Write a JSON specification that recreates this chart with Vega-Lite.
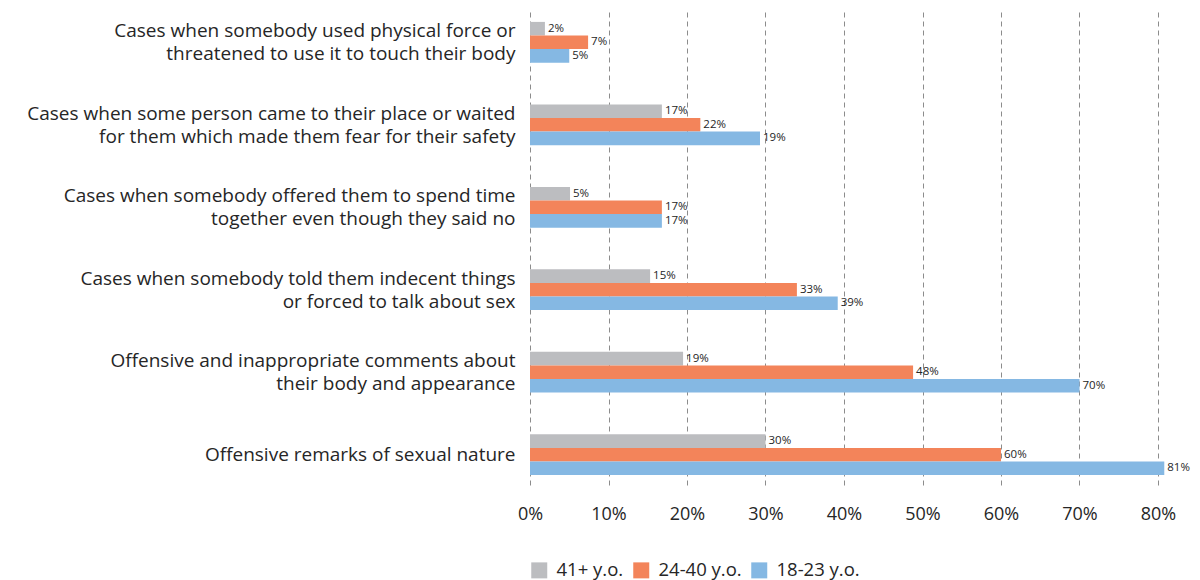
{
  "$schema": "https://vega.github.io/schema/vega-lite/v6.json",
  "autosize": {"type": "none"},
  "width": 628,
  "height": 473,
  "padding": {"left": 530, "top": 12, "right": 42, "bottom": 95},
  "background": "white",
  "config": {
    "view": {"stroke": null},
    "font": "Open Sans",
    "axis": {"labelFont": "Open Sans", "labelColor": "#262626"}
  },
  "data": {
    "values": [
      {"cat": "Cases when somebody used physical force or|threatened to use it to touch their body", "group": "41+ y.o.", "value": 0.019, "label": "2%"},
      {"cat": "Cases when somebody used physical force or|threatened to use it to touch their body", "group": "24-40 y.o.", "value": 0.074, "label": "7%"},
      {"cat": "Cases when somebody used physical force or|threatened to use it to touch their body", "group": "18-23 y.o.", "value": 0.05, "label": "5%"},
      {"cat": "Cases when some person came to their place or waited|for them which made them fear for their safety", "group": "41+ y.o.", "value": 0.168, "label": "17%"},
      {"cat": "Cases when some person came to their place or waited|for them which made them fear for their safety", "group": "24-40 y.o.", "value": 0.217, "label": "22%"},
      {"cat": "Cases when some person came to their place or waited|for them which made them fear for their safety", "group": "18-23 y.o.", "value": 0.293, "label": "19%"},
      {"cat": "Cases when somebody offered them to spend time|together even though they said no", "group": "41+ y.o.", "value": 0.051, "label": "5%"},
      {"cat": "Cases when somebody offered them to spend time|together even though they said no", "group": "24-40 y.o.", "value": 0.168, "label": "17%"},
      {"cat": "Cases when somebody offered them to spend time|together even though they said no", "group": "18-23 y.o.", "value": 0.168, "label": "17%"},
      {"cat": "Cases when somebody told them indecent things|or forced to talk about sex", "group": "41+ y.o.", "value": 0.153, "label": "15%"},
      {"cat": "Cases when somebody told them indecent things|or forced to talk about sex", "group": "24-40 y.o.", "value": 0.34, "label": "33%"},
      {"cat": "Cases when somebody told them indecent things|or forced to talk about sex", "group": "18-23 y.o.", "value": 0.392, "label": "39%"},
      {"cat": "Offensive and inappropriate comments about|their body and appearance", "group": "41+ y.o.", "value": 0.195, "label": "19%"},
      {"cat": "Offensive and inappropriate comments about|their body and appearance", "group": "24-40 y.o.", "value": 0.488, "label": "48%"},
      {"cat": "Offensive and inappropriate comments about|their body and appearance", "group": "18-23 y.o.", "value": 0.70, "label": "70%"},
      {"cat": "Offensive remarks of sexual nature", "group": "41+ y.o.", "value": 0.30, "label": "30%"},
      {"cat": "Offensive remarks of sexual nature", "group": "24-40 y.o.", "value": 0.60, "label": "60%"},
      {"cat": "Offensive remarks of sexual nature", "group": "18-23 y.o.", "value": 0.808, "label": "81%"}
    ]
  },
  "encoding": {
    "y": {
      "field": "cat",
      "type": "nominal",
      "sort": null,
      "title": null,
      "scale": {"paddingInner": 0.506, "paddingOuter": 0.12},
      "axis": {
        "domain": false,
        "ticks": false,
        "labelExpr": "split(datum.label, '|')",
        "labelFontSize": 19,
        "labelLineHeight": 23,
        "labelPadding": 15,
        "labelLimit": 600,
        "labelOffset": {"condition": {"test": "indexof(datum.value, '|') >= 0", "value": -11}, "value": 0}
      }
    },
    "yOffset": {
      "field": "group",
      "type": "nominal",
      "sort": ["41+ y.o.", "24-40 y.o.", "18-23 y.o."],
      "scale": {"paddingInner": 0, "paddingOuter": 0}
    },
    "x": {
      "field": "value",
      "type": "quantitative",
      "title": null,
      "scale": {"domain": [0, 0.8], "nice": false},
      "axis": {
        "format": ".0%",
        "values": [0, 0.1, 0.2, 0.3, 0.4, 0.5, 0.6, 0.7, 0.8],
        "domain": false,
        "ticks": false,
        "grid": true,
        "gridDash": [5, 4],
        "gridColor": "#8c8c8c",
        "gridWidth": 1,
        "labelFontSize": 18,
        "labelPadding": 20,
        "labelFlush": false
      }
    }
  },
  "layer": [
    {
      "mark": {"type": "bar", "cornerRadius": 0},
      "encoding": {
        "color": {
          "field": "group",
          "type": "nominal",
          "sort": ["41+ y.o.", "24-40 y.o.", "18-23 y.o."],
          "scale": {"domain": ["41+ y.o.", "24-40 y.o.", "18-23 y.o."], "range": ["#BCBDC0", "#F3845A", "#85B8E3"]},
          "legend": {
            "title": null,
            "orient": "none",
            "legendX": 0,
            "legendY": 549,
            "direction": "horizontal",
            "symbolType": "square",
            "symbolSize": 256,
            "symbolStrokeWidth": 0,
            "labelFontSize": 18.5,
            "labelFont": "Open Sans",
            "labelColor": "#262626",
            "labelOffset": 8,
            "columnPadding": 8
          }
        }
      }
    },
    {
      "mark": {"type": "text", "align": "left", "baseline": "middle", "dx": 3, "fontSize": 11.5, "color": "#262626", "font": "Open Sans"},
      "encoding": {"text": {"field": "label"}}
    }
  ]
}
